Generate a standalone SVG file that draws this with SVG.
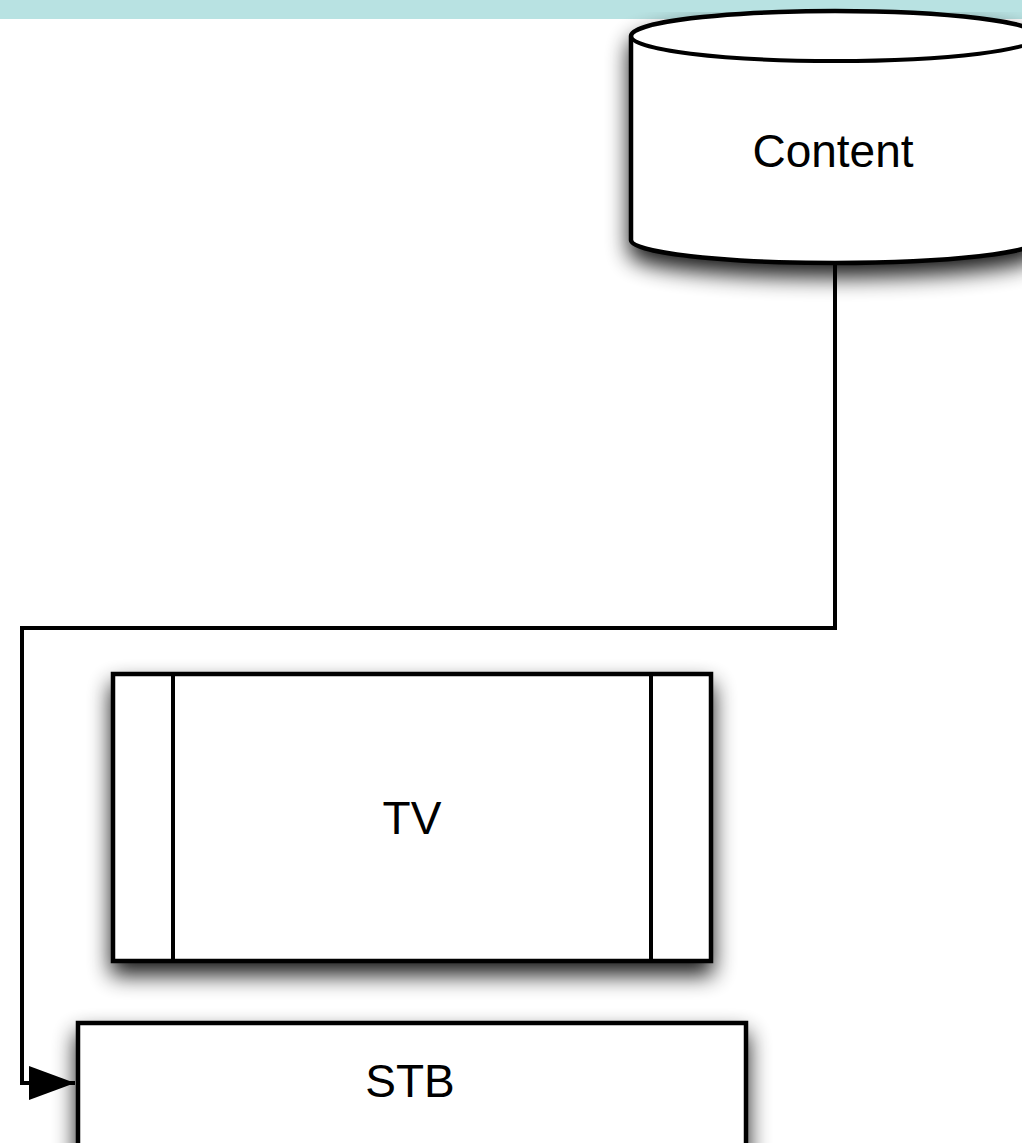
<svg xmlns="http://www.w3.org/2000/svg" width="1022" height="1143" viewBox="0 0 1022 1143">
<style>
.shape{fill:#fff;stroke:#000;stroke-width:4.5;stroke-linejoin:miter}
.inner{fill:none;stroke:#000;stroke-width:4}
.lbl{font-family:"Liberation Sans",Arial,sans-serif;font-size:46px;fill:#000;text-anchor:middle}
.conn{fill:none;stroke:#000;stroke-width:4}
</style>
<defs>
<filter id="sh" filterUnits="userSpaceOnUse" x="0" y="0" width="1100" height="1200">
<feGaussianBlur in="SourceAlpha" stdDeviation="11"/>
<feOffset dx="0" dy="12" result="b"/>
<feComponentTransfer><feFuncA type="linear" slope="0.9"/></feComponentTransfer>
<feMerge><feMergeNode/><feMergeNode in="SourceGraphic"/></feMerge>
</filter>
<marker id="arr" markerUnits="userSpaceOnUse" markerWidth="50" markerHeight="40" refX="46" refY="17" orient="auto">
<path d="M0,0 L46,17 L0,34 Z" fill="#000"/>
</marker>
</defs>
<rect x="0" y="0" width="1022" height="1143" fill="#fff"/>
<rect x="0" y="0" width="1022" height="19" fill="#b8e2e2"/>
<g id="connectors">
<path class="conn" d="M835,263 L835,628 L22,628 L22,1083 L75,1083" marker-end="url(#arr)"/>
</g>
<g id="content">
<path class="shape" filter="url(#sh)" d="M631,36 A204,25 0 0 1 1039,36 L1039,240 A204,23 0 0 1 631,240 Z"/>
<path class="inner" d="M631,36 A204,25 0 0 0 1039,36"/>
<text class="lbl" x="833" y="167">Content</text>
</g>
<g id="tv">
<rect class="shape" filter="url(#sh)" x="113" y="674" width="598" height="287"/>
<line class="inner" x1="173" y1="674" x2="173" y2="961"/>
<line class="inner" x1="651" y1="674" x2="651" y2="961"/>
<text class="lbl" x="412" y="834">TV</text>
</g>
<g id="stb">
<rect class="shape" filter="url(#sh)" x="78" y="1023" width="668" height="130"/>
<text class="lbl" x="410" y="1097">STB</text>
</g>
</svg>
